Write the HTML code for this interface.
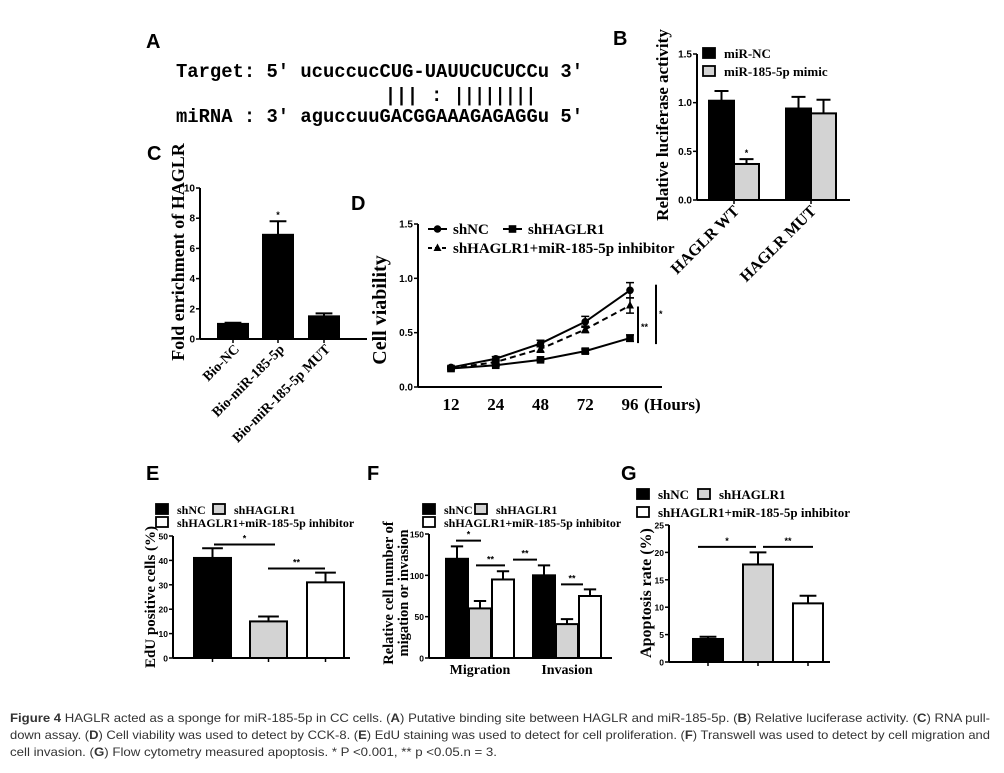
<!DOCTYPE html>
<html><head><meta charset="utf-8"><style>
html,body{margin:0;padding:0;background:#fff;}
svg{display:block;}
.ser{font-family:"Liberation Serif",serif;font-weight:bold;}
.san{font-family:"Liberation Sans",sans-serif;font-weight:bold;}
.mono{font-family:"Liberation Mono",monospace;font-weight:bold;}
</style></head><body>
<svg id="fig" width="1004" height="773" viewBox="0 0 1004 773" xmlns="http://www.w3.org/2000/svg">
<g class="san" font-size="20">
<text x="146" y="48">A</text>
<text x="613" y="45">B</text>
<text x="147" y="160">C</text>
<text x="351" y="210">D</text>
<text x="146" y="480">E</text>
<text x="367" y="480">F</text>
<text x="621" y="480">G</text>
</g>
<g class="mono" font-size="19">
<text x="176" y="77" textLength="407" lengthAdjust="spacingAndGlyphs">Target: 5' ucuccucCUG-UAUUCUCUCCu 3'</text>
<text x="385" y="101" textLength="33" lengthAdjust="spacingAndGlyphs">|||</text>
<text x="431" y="101">:</text>
<text x="454" y="101" textLength="82" lengthAdjust="spacingAndGlyphs">||||||||</text>
<text x="176" y="122" textLength="407" lengthAdjust="spacingAndGlyphs">miRNA : 3' aguccuuGACGGAAAGAGAGGu 5'</text>
</g>
<g font-family="Liberation Sans, sans-serif" font-size="12" fill="#333">
<text x="10" y="722" textLength="980" lengthAdjust="spacingAndGlyphs"><tspan font-weight="bold">Figure 4</tspan> HAGLR acted as a sponge for miR-185-5p in CC cells. (<tspan font-weight="bold">A</tspan>) Putative binding site between HAGLR and miR-185-5p. (<tspan font-weight="bold">B</tspan>) Relative luciferase activity. (<tspan font-weight="bold">C</tspan>) RNA pull-</text>
<text x="10" y="739" textLength="980" lengthAdjust="spacingAndGlyphs">down assay. (<tspan font-weight="bold">D</tspan>) Cell viability was used to detect by CCK-8. (<tspan font-weight="bold">E</tspan>) EdU staining was used to detect for cell proliferation. (<tspan font-weight="bold">F</tspan>) Transwell was used to detect by cell migration and</text>
<text x="10" y="756" textLength="487" lengthAdjust="spacingAndGlyphs">cell invasion. (<tspan font-weight="bold">G</tspan>) Flow cytometry measured apoptosis. * P &lt;0.001, ** p &lt;0.05.n = 3.</text>
</g>
</svg>
<script>
// ---- data ----
const bCats = ['HAGLR WT', 'HAGLR MUT'];
const bNC = [1.02, 0.94];
const bNCErr = [0.10, 0.12];
const bMimic = [0.37, 0.89];
const bMimicErr = [0.05, 0.14];
const bTicks = ['0.0', '0.5', '1.0', '1.5'];
const bTickVals = [0, 0.5, 1.0, 1.5];

const cCats = ['Bio-NC', 'Bio-miR-185-5p', 'Bio-miR-185-5p MUT'];
const cVals = [1.0, 6.9, 1.5];
const cErr = [0.08, 0.9, 0.2];
const cTickVals = [0, 2, 4, 6, 8, 10];

const dHours = ['12', '24', '48', '72', '96'];
const dNC = [0.18, 0.26, 0.40, 0.60, 0.89];
const dNCErr = [0.01, 0.02, 0.03, 0.05, 0.07];
const dSh = [0.17, 0.20, 0.25, 0.33, 0.45];
const dShErr = [0.01, 0.01, 0.01, 0.02, 0.03];
const dInh = [0.17, 0.23, 0.35, 0.53, 0.75];
const dInhErr = [0.01, 0.02, 0.03, 0.03, 0.07];
const dTicks = ['0.0', '0.5', '1.0', '1.5'];
const dTickVals = [0, 0.5, 1.0, 1.5];

const eVals = [41, 15, 31];
const eErr = [4, 2, 4];
const eTickVals = [0, 10, 20, 30, 40, 50];

const fCats = ['Migration', 'Invasion'];
const fNC = [120, 100];
const fNCErr = [15, 12];
const fSh = [60, 41];
const fShErr = [9, 6];
const fInh = [95, 75];
const fInhErr = [10, 8];
const fTickVals = [0, 50, 100, 150];

const gVals = [4.2, 17.8, 10.7];
const gErr = [0.4, 2.2, 1.4];
const gTickVals = [0, 5, 10, 15, 20, 25];

// ---- helpers ----
const NS = 'http://www.w3.org/2000/svg';
const svg = document.getElementById('fig');
function el(tag, attrs, parent) {
  const e = document.createElementNS(NS, tag);
  for (const k in attrs) e.setAttribute(k, attrs[k]);
  (parent || svg).appendChild(e);
  return e;
}
function mkScale(y0, yTop, max) { return v => y0 - v / max * (y0 - yTop); }

function yAxis(g, x, y0, yTop, sc, vals, labels, fs) {
  const ax = el('line', {x1: x, y1: y0, x2: x, y2: yTop, stroke: '#000', 'stroke-width': 2}, g);
  
  
  vals.forEach((v, i) => {
    const t = el('line', {x1: x - 4, y1: sc(v), x2: x, y2: sc(v), stroke: '#000', 'stroke-width': 1.5}, g);
    
    
    const l = el('text', {x: x - 5, y: sc(v) + 3.5, 'text-anchor': 'end', class: 'san', 'font-size': fs || 10}, g);
    l.textContent = labels ? labels[i] : String(v);
    
    
  });
}
function xAxis(g, x0, x1, y, tickXs) {
  const ax = el('line', {x1: x0, y1: y, x2: x1, y2: y, stroke: '#000', 'stroke-width': 2}, g);
  
  
  (tickXs || []).forEach(tx => {
    const t = el('line', {x1: tx, y1: y, x2: tx, y2: y + 4, stroke: '#000', 'stroke-width': 1.5}, g);
    
    
  });
}
function bar(g, left, w, v, err, sc, fill, name) {
  const top = sc(v);
  const r = el('rect', {x: left, y: top, width: w, height: sc(0) - top, fill: fill, stroke: '#000', 'stroke-width': 2}, g);
  
  
  const cx = left + w / 2, et = sc(v + err);
  const e = el('path', {d: `M${cx},${top} V${et} M${cx - w * 0.28},${et} H${cx + w * 0.28}`, stroke: '#000', 'stroke-width': 2, fill: 'none'}, g);
  
  
}
function ytitle(g, x, y, txt, fs, name) {
  const t = el('text', {x: x, y: y, transform: `rotate(-90 ${x} ${y})`, 'text-anchor': 'middle', class: 'ser', 'font-size': fs}, g);
  t.textContent = txt;
  
  
}
function legendBox(g, x, y, fill, label, fs, name) {
  const r = el('rect', {x: x, y: y - 10, width: 12, height: 10, fill: fill, stroke: '#000', 'stroke-width': 1.8}, g);
  
  
  const t = el('text', {x: x + 21, y: y, class: 'ser', 'font-size': fs}, g);
  t.textContent = label;
  
  
}
function sig(g, x1, x2, y, txt, name) {
  const l = el('line', {x1: x1, y1: y, x2: x2, y2: y, stroke: '#000', 'stroke-width': 2}, g);
  
  
  const t = el('text', {x: (x1 + x2) / 2, y: y - 3, 'text-anchor': 'middle', class: 'san', 'font-size': 9}, g);
  t.textContent = txt;
  
  
}
function catLabel(g, x, y, txt, fs, name) {
  const t = el('text', {x: x, y: y, transform: `rotate(-45 ${x} ${y})`, 'text-anchor': 'end', class: 'ser', 'font-size': fs}, g);
  t.textContent = txt;
  
  
}

// ---- Panel B ----
const gB = el('g', {});


const sB = mkScale(200, 54, 1.5);
const bGroupLeft = [709, 786];
bCats.forEach((c, i) => {
  bar(gB, bGroupLeft[i], 25, bNC[i], bNCErr[i], sB, '#000', 'bar-mir-nc-' + i);
  bar(gB, bGroupLeft[i] + 25, 25, bMimic[i], bMimicErr[i], sB, '#d3d3d3', 'bar-mimic-' + i);
  catLabel(gB, bGroupLeft[i] + 31, 212, c, 16, 'x-category-label');
});
yAxis(gB, 697, 200, 54, sB, bTickVals, bTicks, 10);
xAxis(gB, 697, 850, 200, [bGroupLeft[0] + 25, bGroupLeft[1] + 25]);
{
  const t = el('text', {x: bGroupLeft[0] + 37.5, y: sB(bMimic[0] + bMimicErr[0]) - 3, 'text-anchor': 'middle', class: 'san', 'font-size': 9}, gB);
  t.textContent = '*';
  
  
}
ytitle(gB, 668, 125, 'Relative luciferase activity', 17, 'y-axis-title');
legendBox(gB, 703, 58, '#000', 'miR-NC', 13, 'legend-mir-nc');
legendBox(gB, 703, 76, '#d3d3d3', 'miR-185-5p mimic', 13, 'legend-mimic');

// ---- Panel C ----
const gC = el('g', {});


const sC = mkScale(339, 188, 10);
const cLeft = [218, 263, 309];
cCats.forEach((c, i) => {
  bar(gC, cLeft[i], 30, cVals[i], cErr[i], sC, '#000', 'bar-' + i);
  catLabel(gC, cLeft[i] + 22, 350, c, 14, 'x-category-label');
});
yAxis(gC, 200, 339, 188, sC, cTickVals, null, 10);
xAxis(gC, 200, 367, 339, cLeft.map(l => l + 15));
{
  const t = el('text', {x: cLeft[1] + 15, y: sC(cVals[1] + cErr[1]) - 3, 'text-anchor': 'middle', class: 'san', 'font-size': 9}, gC);
  t.textContent = '*';
  
  
}
ytitle(gC, 184, 252, 'Fold enrichment of HAGLR', 18, 'y-axis-title');

// ---- Panel D ----
const gD = el('g', {});


const sD = mkScale(387, 224, 1.5);
const xD = i => 451 + i * 44.75;
yAxis(gD, 418, 387, 224, sD, dTickVals, dTicks, 10);
xAxis(gD, 418, 662, 387, []);
dHours.forEach((h, i) => {
  const t = el('text', {x: xD(i), y: 410, 'text-anchor': 'middle', class: 'ser', 'font-size': 17}, gD);
  t.textContent = h;
  
  
});
{
  const t = el('text', {x: 644, y: 410, class: 'ser', 'font-size': 17}, gD);
  t.textContent = '(Hours)';
  
  
}
function marker(g, type, x, y, name) {
  let m;
  if (type === 'circle') m = el('circle', {cx: x, cy: y, r: 3.8, fill: '#000'}, g);
  else if (type === 'square') m = el('rect', {x: x - 3.8, y: y - 3.8, width: 7.6, height: 7.6, fill: '#000'}, g);
  else m = el('path', {d: `M${x},${y - 4.5} L${x + 4},${y + 3} L${x - 4},${y + 3}Z`, fill: '#000'}, g);
  
  
}
function series(vals, errs, type, dash, name) {
  const pts = vals.map((v, i) => `${xD(i)},${sD(v)}`).join(' ');
  const l = el('polyline', {points: pts, fill: 'none', stroke: '#000', 'stroke-width': 2, 'stroke-dasharray': dash}, gD);
  
  
  vals.forEach((v, i) => {
    const e = el('path', {d: `M${xD(i)},${sD(v - errs[i])} V${sD(v + errs[i])} M${xD(i) - 4},${sD(v + errs[i])} H${xD(i) + 4} M${xD(i) - 4},${sD(v - errs[i])} H${xD(i) + 4}`, stroke: '#000', 'stroke-width': 1.5, fill: 'none'}, gD);
    
    
    marker(gD, type, xD(i), sD(v), name + '-point');
  });
}
series(dSh, dShErr, 'square', 'none', 'shhaglr1');
series(dInh, dInhErr, 'triangle', '6,4', 'shhaglr1-inhibitor');
series(dNC, dNCErr, 'circle', 'none', 'shnc');
{
  const l1 = el('line', {x1: 638, y1: sD(dInh[4]) + 1, x2: 638, y2: sD(dSh[4]) + 5, stroke: '#000', 'stroke-width': 2}, gD);
  
  
  const t1 = el('text', {x: 641, y: 330, class: 'san', 'font-size': 9}, gD);
  t1.textContent = '**';
  
  
  const l2 = el('line', {x1: 656, y1: sD(dNC[4] + dNCErr[4]) + 2, x2: 656, y2: sD(dSh[4]) + 6, stroke: '#000', 'stroke-width': 2}, gD);
  
  
  const t2 = el('text', {x: 659, y: 317, class: 'san', 'font-size': 9}, gD);
  t2.textContent = '*';
  
  
}
ytitle(gD, 386, 310, 'Cell viability', 20, 'y-axis-title');
function lineLegend(x, y, type, dash, label, name) {
  const l = el('line', {x1: x, y1: y, x2: x + 19, y2: y, stroke: '#000', 'stroke-width': 2, 'stroke-dasharray': dash}, gD);
  
  
  marker(gD, type, x + 9.5, y, name + '-marker');
  const t = el('text', {x: x + 25, y: y + 5, class: 'ser', 'font-size': 15}, gD);
  t.textContent = label;
  
  
}
lineLegend(428, 229, 'circle', 'none', 'shNC', 'legend-shnc');
lineLegend(503, 229, 'square', 'none', 'shHAGLR1', 'legend-shhaglr1');
lineLegend(428, 248, 'triangle', '4,3', 'shHAGLR1+miR-185-5p inhibitor', 'legend-inhibitor');

// ---- Panel E ----
const gE = el('g', {});


const sE = mkScale(658, 536, 50);
const eLeft = [194, 250, 307];
const eFill = ['#000', '#d3d3d3', '#fff'];
eVals.forEach((v, i) => bar(gE, eLeft[i], 37, v, eErr[i], sE, eFill[i], 'bar-' + i));
yAxis(gE, 173, 658, 536, sE, eTickVals, null, 8.5);
xAxis(gE, 173, 350, 658, eLeft.map(l => l + 18.5));
sig(gE, 214, 275, sE(46.5), '*', 'significance-line-1');
sig(gE, 268, 325, sE(36.7), '**', 'significance-line-2');
ytitle(gE, 155, 597, 'EdU positive cells (%)', 15, 'y-axis-title');
legendBox(gE, 156, 514, '#000', 'shNC', 12, 'legend-shnc');
legendBox(gE, 213, 514, '#d3d3d3', 'shHAGLR1', 12, 'legend-shhaglr1');
legendBox(gE, 156, 527, '#fff', 'shHAGLR1+miR-185-5p inhibitor', 12, 'legend-inhibitor');

// ---- Panel F ----
const gF = el('g', {});


const sF = mkScale(658, 534, 150);
const fLeft = [446, 533];
fCats.forEach((c, i) => {
  bar(gF, fLeft[i], 22, fNC[i], fNCErr[i], sF, '#000', 'bar-shnc-' + i);
  bar(gF, fLeft[i] + 23, 22, fSh[i], fShErr[i], sF, '#d3d3d3', 'bar-shhaglr1-' + i);
  bar(gF, fLeft[i] + 46, 22, fInh[i], fInhErr[i], sF, '#fff', 'bar-inhibitor-' + i);
  const t = el('text', {x: fLeft[i] + 34, y: 674, 'text-anchor': 'middle', class: 'ser', 'font-size': 14}, gF);
  t.textContent = c;
  
  
});
yAxis(gF, 429, 658, 534, sF, fTickVals, null, 8.5);
xAxis(gF, 429, 612, 658, []);
sig(gF, 456, 481, sF(142), '*', 'significance-migration-1');
sig(gF, 476, 505, sF(112), '**', 'significance-migration-2');
sig(gF, 513, 537, sF(119), '**', 'significance-invasion-1');
sig(gF, 561, 583, sF(89), '**', 'significance-invasion-2');
ytitle(gF, 393, 593, 'Relative cell number of', 14.5, 'y-axis-title-line-1');
ytitle(gF, 408, 593, 'migation or invasion', 14.5, 'y-axis-title-line-2');
legendBox(gF, 423, 514, '#000', 'shNC', 12, 'legend-shnc');
legendBox(gF, 475, 514, '#d3d3d3', 'shHAGLR1', 12, 'legend-shhaglr1');
legendBox(gF, 423, 527, '#fff', 'shHAGLR1+miR-185-5p inhibitor', 12, 'legend-inhibitor');

// ---- Panel G ----
const gG = el('g', {});


const sG = mkScale(662, 525, 25);
const gLeft = [693, 743, 793];
gVals.forEach((v, i) => bar(gG, gLeft[i], 30, v, gErr[i], sG, eFill[i], 'bar-' + i));
yAxis(gG, 669, 662, 525, sG, gTickVals, null, 8.5);
xAxis(gG, 669, 830, 662, gLeft.map(l => l + 15));
sig(gG, 698, 756, sG(21), '*', 'significance-line-1');
sig(gG, 763, 813, sG(21), '**', 'significance-line-2');
ytitle(gG, 651, 593, 'Apoptosis rate (%)', 16, 'y-axis-title');
legendBox(gG, 637, 499, '#000', 'shNC', 13, 'legend-shnc');
legendBox(gG, 698, 499, '#d3d3d3', 'shHAGLR1', 13, 'legend-shhaglr1');
legendBox(gG, 637, 517, '#fff', 'shHAGLR1+miR-185-5p inhibitor', 13, 'legend-inhibitor');
</script>
</body></html>
